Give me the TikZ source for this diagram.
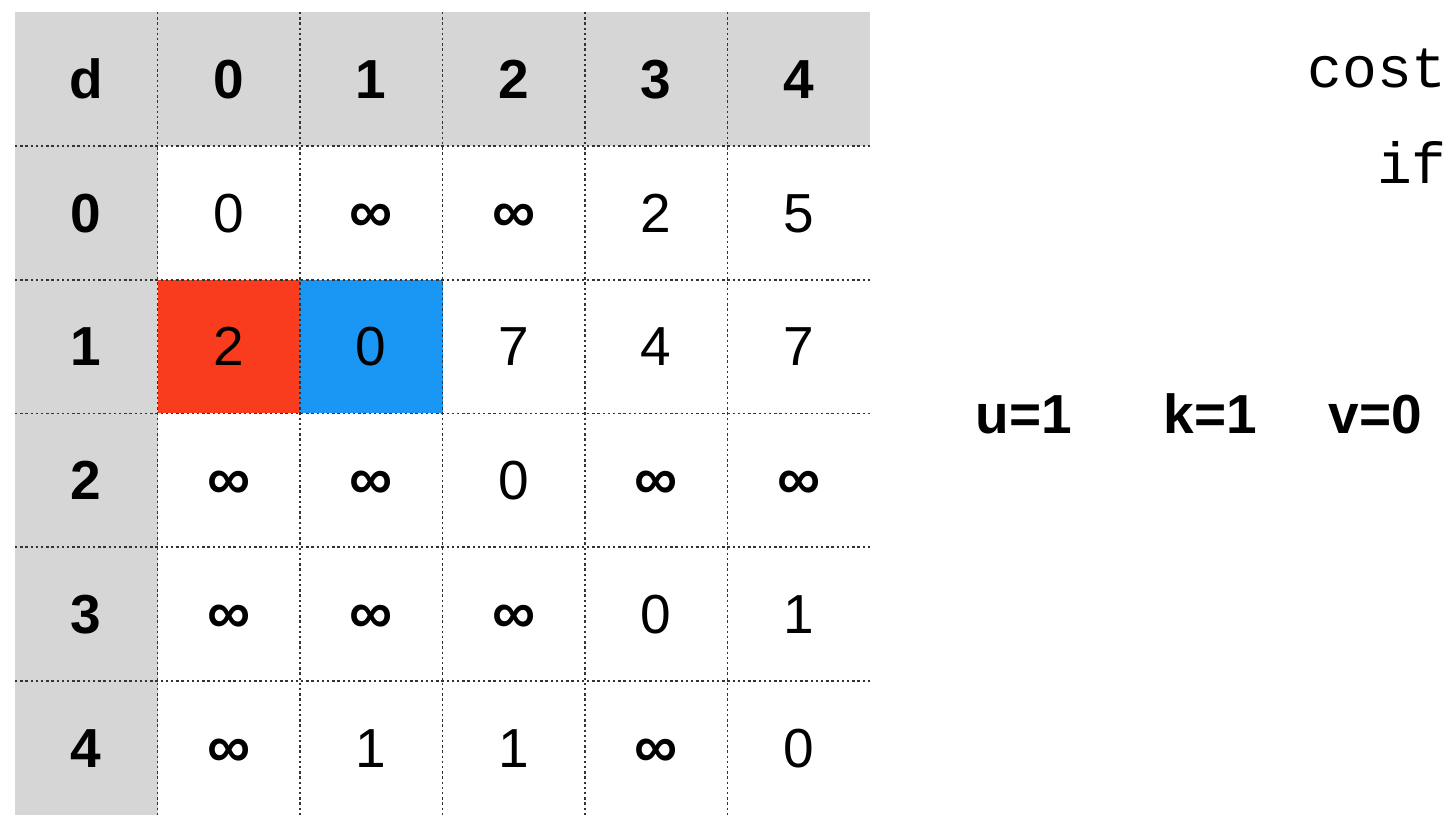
\documentclass[tikz,border=0pt]{standalone}
\usepackage{fontspec}
\setmainfont{Liberation Sans}
\setmonofont{Liberation Mono}
\definecolor{hdrgray}{HTML}{D6D6D6}
\definecolor{oldred}{HTML}{FA3C1E}
\definecolor{newblue}{HTML}{1A97F5}
\newcommand{\infsym}{\scalebox{1.1}{\bfseries ∞}}
\begin{document}
\begin{tikzpicture}[x=0.5pt,y=-0.5pt,
	cell/.style={font=\fontsize{27.5}{27.5}\selectfont, inner sep=0pt, anchor=base},
	head/.style={cell, font=\fontsize{27.5}{27.5}\selectfont\bfseries},
	code/.style={font=\ttfamily\fontsize{29}{29}\selectfont, inner sep=0pt, anchor=base west},
	grid/.style={black!80, line width=0.9pt, dash pattern=on 1.2pt off 1.4pt}]
	\useasboundingbox (0,0) rectangle (1454,826);
	% shaded header row and column, highlighted cells
	\fill[hdrgray] (15,12) rectangle (870,145.8);
	\fill[hdrgray] (15,12) rectangle (157.5,814.8);
	\fill[oldred] (157.5,279.6) rectangle (300,413.4);
	\fill[newblue] (300,279.6) rectangle (442.5,413.4);
	% dotted grid
	\foreach \k in {1,...,5}
		\draw[grid] ({15+142.5*\k},12) -- ({15+142.5*\k},814.8);
	\foreach \k in {1,...,5}
		\draw[grid] (15,{12+133.8*\k}) -- (870,{12+133.8*\k});
	% headers
	\node[head] (h-d) at (86.25,98) {d};
	\foreach \j in {0,...,4}{
		\node[head] (h-\j) at ({228.75+142.5*\j},98) {\j};
		\node[head] (r-\j) at (86.25,{232+133.8*\j}) {\j};
	}
	% distances
	\foreach \row [count=\i from 0] in {{0,\infsym,\infsym,2,5},{2,0,7,4,7},{\infsym,\infsym,0,\infsym,\infsym},{\infsym,\infsym,\infsym,0,1},{\infsym,1,1,\infsym,0}}
		\foreach \v [count=\j from 0] in \row
			\node[cell] (c-\i-\j) at ({228.75+142.5*\j},{232+133.8*\i}) {\v};
	% code and loop variables
	\node[code] (cost) at (1307,87) {cost};
	\node[code] (if) at (1376.6,183) {if};
	\node[head, anchor=base west] (u) at (975,433) {u=1};
	\node[head, anchor=base west] (k) at (1163,433) {k=1};
	\node[head, anchor=base west] (v) at (1328,433) {v=0};
\end{tikzpicture}
\end{document}
